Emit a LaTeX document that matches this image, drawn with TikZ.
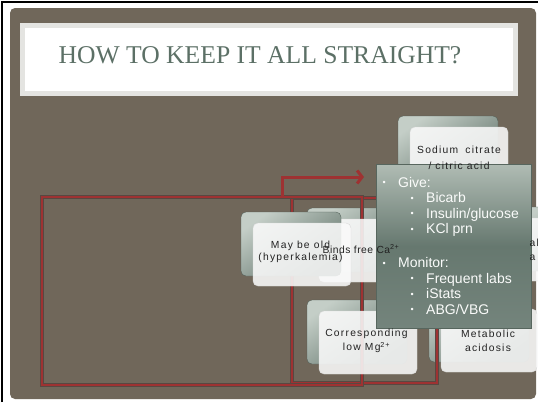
\documentclass[tikz,border=0pt]{standalone}
\usepackage{fontspec}
\setmainfont{Liberation Serif}
\newfontfamily\boxfont[LetterSpace=12]{Liberation Sans}
\newfontfamily\boxfontnarrow[LetterSpace=5]{Liberation Sans}
\newfontfamily\listfont{Liberation Sans}
\usetikzlibrary{arrows.meta}

\definecolor{slidebrown}{RGB}{112,103,90}
\definecolor{titlegreen}{RGB}{92,112,102}
\definecolor{framegray}{RGB}{228,228,225}
\definecolor{linered}{RGB}{158,50,50}
\definecolor{lineedge}{RGB}{88,72,66}
\definecolor{boxlight}{RGB}{196,206,199}
\definecolor{boxdark}{RGB}{96,114,105}
\definecolor{notetop}{RGB}{176,188,180}
\definecolor{notemid}{RGB}{102,120,111}
\definecolor{notebottom}{RGB}{116,132,124}
\definecolor{textgray}{RGB}{34,34,34}

\tikzset{
  backbox/.style={rectangle, rounded corners=5pt, minimum width=100pt, minimum height=64pt, top color=boxlight, bottom color=boxdark, shading angle=35, draw=boxdark!80!black, line width=0.3pt},
  frontbox/.style={rectangle, rounded corners=5pt, minimum width=98pt, minimum height=63pt, fill=white!96!gray, fill opacity=0.88, draw=gray!30, line width=0.4pt},
  boxtext/.style={font=\boxfont\fontsize{10.3}{14}\selectfont, text=textgray, align=center, inner sep=0pt},
  redframe/.style={draw=lineedge, double=linered, double distance=2.4pt, line width=0.7pt},
  notetext/.style={font=\listfont\fontsize{14}{15.5}\selectfont, text=white!94!notetop, align=left, anchor=north west, inner sep=0pt}
}

\newcommand{\itemdot}{\makebox[15.5pt][l]{\raisebox{1.5pt}{\fontsize{9}{9}\selectfont\textbullet}}}

\begin{document}
\begin{tikzpicture}[x=1pt,y=-1pt]
    \useasboundingbox (0,0) rectangle (538,402);
    \clip (0,0) rectangle (538,402);
    % slide
    \draw [line width=1.7pt] (2.2,402) -- (2.2,2.2) -- (538,2.2);
    \fill [slidebrown, rounded corners=5pt] (10,8) rectangle (536,399);
    \node (title) [rectangle, draw=framegray, line width=5pt, fill=white, minimum width=493pt, minimum height=68pt] at (269,59.5) {};
    \node (titletext) [font=\fontsize{25.6}{30}\selectfont, text=titlegreen] at (260,55.5) {HOW TO KEEP IT ALL STRAIGHT?};

    % back shapes
    \node (bCitrate) [backbox] at (448,148) {};
    \node (bBinds) [backbox] at (357,240) {};
    \node (bRight) [backbox] at (565,239) {};
    \node (bLowMg) [backbox] at (357,332) {};
    \node (bAcid) [backbox] at (479,330) {};

    % red frames and arrow
    \draw [redframe] (292,198) rectangle (437,383);
    \draw [redframe] (42,197) rectangle (362,385);
    \coordinate (start) at (282,197);
    \coordinate (bend) at (282,177);
    \coordinate (tip) at (364,177);
    \draw [linered, line width=3pt, -{Straight Barb[length=5pt,width=13pt]}] (start) -- (bend) -- (tip);

    % front shapes
    \node (fCitrate) [frontbox] at ([shift={(11,10.5)}]bCitrate.center) {};
    \node (fBinds) [frontbox] at ([shift={(11,10.5)}]bBinds.center) {};
    \node (fRight) [frontbox] at ([shift={(11,10.5)}]bRight.center) {};
    \node (fLowMg) [frontbox] at ([shift={(11,10.5)}]bLowMg.center) {};
    \node (fAcid) [frontbox, minimum width=96pt] at ([shift={(10,10.5)}]bAcid.center) {};
    \node (bOld) [backbox] at (291,244) {};
    \node (fOld) [frontbox] at ([shift={(11,10.5)}]bOld.center) {};

    % note
    \node (note) [rectangle, minimum width=155pt, minimum height=164pt, top color=notetop, bottom color=notebottom, middle color=notemid, draw=notemid!85!black, line width=0.4pt] at (453.5,246) {};
    \node (plan) [notetext] at (382.5,177) {\itemdot Give:\\
        \hspace{28pt}\itemdot Bicarb\\
        \hspace{28pt}\itemdot Insulin/glucose\\
        \hspace{28pt}\itemdot KCl prn\\[18.5pt]
        \itemdot Monitor:\\
        \hspace{28pt}\itemdot Frequent labs\\
        \hspace{28pt}\itemdot iStats\\
        \hspace{28pt}\itemdot ABG/VBG};

    % texts
    \node (tCitrate) [boxtext, font=\boxfont\fontsize{10.3}{16}\selectfont] at (459,158) {Sodium\hspace{3pt} citrate\\/ citric acid};
    \node (tOld) [boxtext, font=\boxfont\fontsize{10.3}{12}\selectfont] at (300.5,252) {May be old\\(hyperkalemia)};
    \node (tBinds) [boxtext, font=\boxfontnarrow\fontsize{10.3}{14}\selectfont] at (361,249) {Binds free Ca\textsuperscript{2+}};
    \node (tLowMg) [boxtext] at (366.5,341) {Corresponding\\low Mg\textsuperscript{2+}};
    \node (tAcid) [boxtext] at (488,341) {Metabolic\\acidosis};
    \node (tRight) [boxtext, anchor=west, align=left] at (529.5,249.5) {al\\a};
\end{tikzpicture}
\end{document}
